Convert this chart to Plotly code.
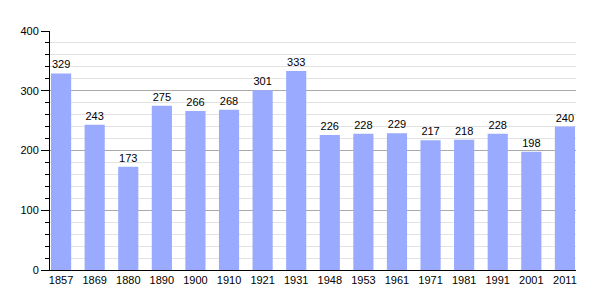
import plotly.graph_objects as go

years = ["1857", "1869", "1880", "1890", "1900", "1910", "1921", "1931",
         "1948", "1953", "1961", "1971", "1981", "1991", "2001", "2011"]
population = [329, 243, 173, 275, 266, 268, 301, 333,
              226, 228, 229, 217, 218, 228, 198, 240]

fig = go.Figure(go.Bar(
    x=list(range(len(years))),
    y=population,
    width=0.6,
    marker=dict(color="#99aaff", line=dict(width=0)),
    text=[str(v) for v in population],
    textposition="outside",
    textfont=dict(family="Liberation Sans, Arial, sans-serif", size=11, color="#000"),
    cliponaxis=False,
))

fig.update_layout(
    width=605, height=300,
    margin=dict(l=50, r=29, t=31, b=30),
    paper_bgcolor="white", plot_bgcolor="white",
    showlegend=False,
    font=dict(family="Liberation Sans, Arial, sans-serif", size=11, color="#000"),
    xaxis=dict(
        tickmode="array",
        tickvals=list(range(len(years))),
        ticktext=years,
        range=[-0.33, 15.33],
        showgrid=False,
        showline=True, linecolor="#000", linewidth=1,
        ticks="", zeroline=False,
    ),
    yaxis=dict(
        range=[0, 400],
        dtick=100,
        showgrid=True, gridcolor="#aaaaaa", gridwidth=1,
        showline=True, linecolor="#000", linewidth=1,
        ticks="outside", ticklen=8, tickcolor="#000",
        zeroline=False,
        minor=dict(dtick=20, showgrid=True, gridcolor="#e2e2e2", gridwidth=1,
                   ticks="outside", ticklen=4, tickcolor="#000"),
    ),
    bargap=0.4,
)

fig.write_html("out.html")
